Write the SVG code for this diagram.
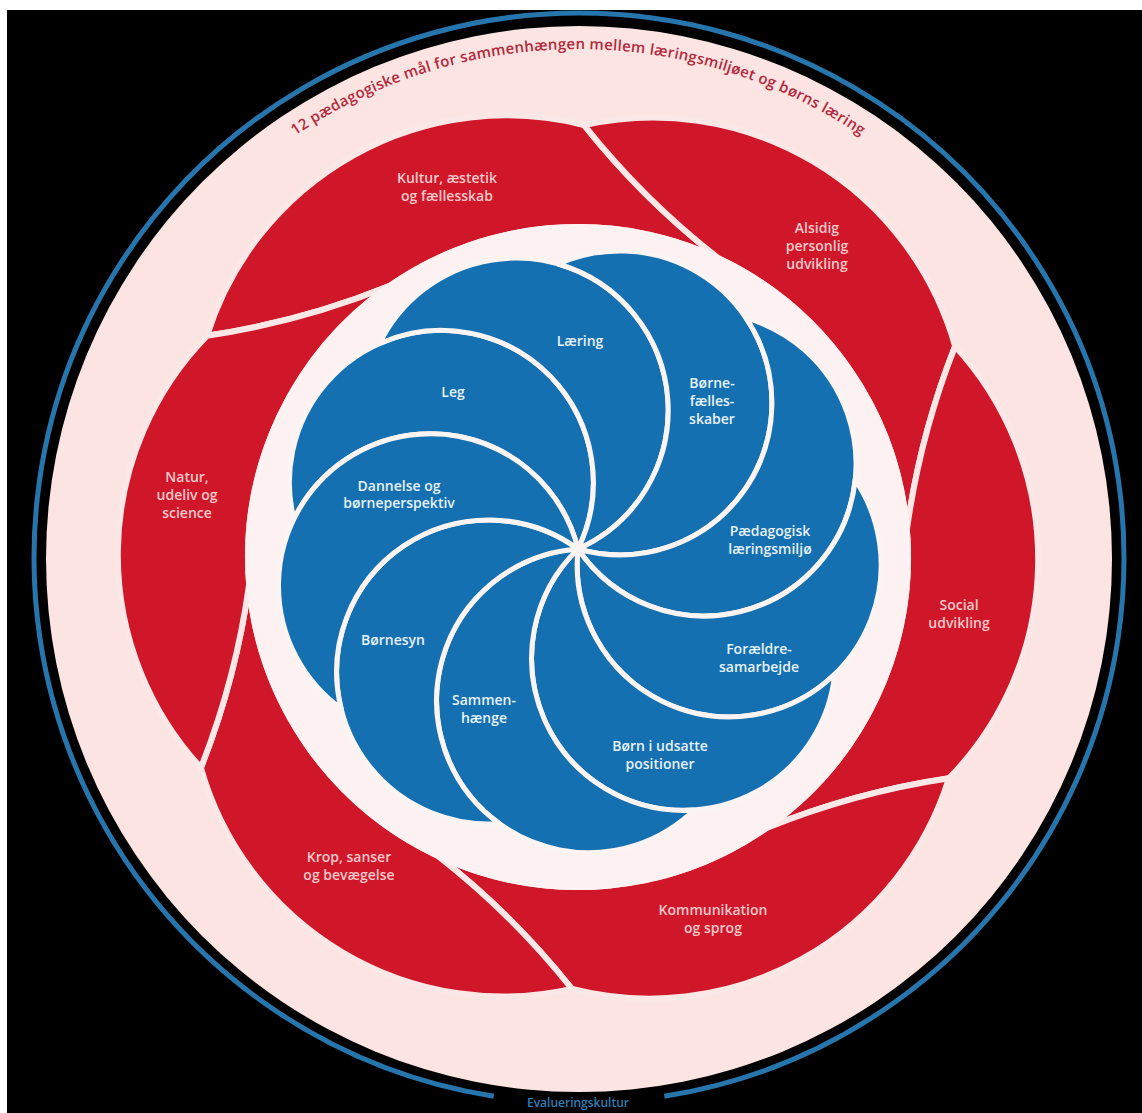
<svg xmlns="http://www.w3.org/2000/svg" width="1142" height="1113" viewBox="0 0 1142 1113">
<style>
.bg{fill:#fbe4e2}
.red{fill:#cf1729;stroke:#fbe8e6;stroke-width:6;stroke-linejoin:round}
.blue{fill:#1570b2;stroke:#fbf4f3;stroke-width:5;stroke-linejoin:round}
.lbl{font-family:"Open Sans","Liberation Sans",sans-serif;font-weight:600;font-size:14px;text-anchor:middle}
.rl{fill:#f9c8cb}
.bl{fill:#e6f2fa}
.title{font-family:"Open Sans","Liberation Sans",sans-serif;font-weight:600;font-size:15px;fill:#b3283b}
.foot{font-family:"Open Sans","Liberation Sans",sans-serif;font-weight:600;font-size:12px;fill:#2d7fb5;text-anchor:middle}
</style>
<defs>
<path id="redPetal" d="M-371,-221.2 A314,314 0 0 1 6,-432 A800,800 0 0 0 141,-298.4 A330,330 0 0 0 -188,-271.2 A800,800 0 0 1 -371,-221.2 Z"/>
<path id="bluePetal" d="M0,0 A152,152 0 1 0 -284.1,-29.9 A152,152 0 0 1 0,0 Z"/>
<path id="titlePath" d="M278.5,147.3 A506,506 0 0 1 877.5,147.3"/>
</defs>
<rect width="1142" height="1113" fill="#ffffff"/>
<rect x="7" y="10" width="1135" height="1103" fill="#000000"/>
<path d="M493.7,1096.3 A545,545 0 1 1 664.3,1096.3" fill="none" stroke="#2676ad" stroke-width="5"/>
<circle class="bg" cx="579" cy="559" r="533"/>
<text class="title"><textPath href="#titlePath" startOffset="50%" text-anchor="middle" textLength="600" lengthAdjust="spacing">12 pædagogiske mål for sammenhængen mellem læringsmiljøet og børns læring</textPath></text>
<text class="foot" x="578" y="1107">Evalueringskultur</text>

<g id="red-petals">
<g id="kultur"><use href="#redPetal" class="red" transform="translate(578,557)"/>
<text class="lbl rl" x="447" y="183">Kultur, æstetik</text><text class="lbl rl" x="447" y="201">og fællesskab</text></g>
<g id="alsidig"><use href="#redPetal" class="red" transform="translate(578,557) rotate(60)"/>
<text class="lbl rl" x="817" y="233">Alsidig</text><text class="lbl rl" x="817" y="251">personlig</text><text class="lbl rl" x="817" y="269">udvikling</text></g>
<g id="social"><use href="#redPetal" class="red" transform="translate(578,557) rotate(120)"/>
<text class="lbl rl" x="959" y="610">Social</text><text class="lbl rl" x="959" y="628">udvikling</text></g>
<g id="kommunikation"><use href="#redPetal" class="red" transform="translate(578,557) rotate(180)"/>
<text class="lbl rl" x="713" y="915">Kommunikation</text><text class="lbl rl" x="713" y="933">og sprog</text></g>
<g id="krop"><use href="#redPetal" class="red" transform="translate(578,557) rotate(240)"/>
<text class="lbl rl" x="349" y="862">Krop, sanser</text><text class="lbl rl" x="349" y="880">og bevægelse</text></g>
<g id="natur"><use href="#redPetal" class="red" transform="translate(578,557) rotate(300)"/>
<text class="lbl rl" x="187" y="482">Natur,</text><text class="lbl rl" x="187" y="500">udeliv og</text><text class="lbl rl" x="187" y="518">science</text></g>
</g>

<circle id="inner-ring" cx="578" cy="557" r="333" fill="#fdf2f1"/>

<g id="blue-petals">
<g id="leg"><use href="#bluePetal" class="blue" transform="translate(578,549)"/>
<text class="lbl bl" x="453" y="397">Leg</text></g>
<g id="laering"><use href="#bluePetal" class="blue" transform="translate(578,549) rotate(40)"/>
<text class="lbl bl" x="580" y="346">Læring</text></g>
<g id="boernefaellesskaber"><use href="#bluePetal" class="blue" transform="translate(578,549) rotate(80)"/>
<text class="lbl bl" x="712" y="388">Børne-</text><text class="lbl bl" x="712" y="406">fælles-</text><text class="lbl bl" x="712" y="424">skaber</text></g>
<g id="paedagogisk"><use href="#bluePetal" class="blue" transform="translate(578,549) rotate(120)"/>
<text class="lbl bl" x="770" y="536">Pædagogisk</text><text class="lbl bl" x="770" y="554">læringsmiljø</text></g>
<g id="foraeldre"><use href="#bluePetal" class="blue" transform="translate(578,549) rotate(160)"/>
<text class="lbl bl" x="759" y="654">Forældre-</text><text class="lbl bl" x="759" y="672">samarbejde</text></g>
<g id="udsatte"><use href="#bluePetal" class="blue" transform="translate(578,549) rotate(200)"/>
<text class="lbl bl" x="660" y="751">Børn i udsatte</text><text class="lbl bl" x="660" y="769">positioner</text></g>
<g id="sammenhaenge"><use href="#bluePetal" class="blue" transform="translate(578,549) rotate(240)"/>
<text class="lbl bl" x="484" y="705">Sammen-</text><text class="lbl bl" x="484" y="723">hænge</text></g>
<g id="boernesyn"><use href="#bluePetal" class="blue" transform="translate(578,549) rotate(280)"/>
<text class="lbl bl" x="393" y="645">Børnesyn</text></g>
<g id="dannelse"><use href="#bluePetal" class="blue" transform="translate(578,549) rotate(320)"/>
<text class="lbl bl" x="399" y="491">Dannelse og</text><text class="lbl bl" x="399" y="508">børneperspektiv</text></g>
</g>
</svg>
